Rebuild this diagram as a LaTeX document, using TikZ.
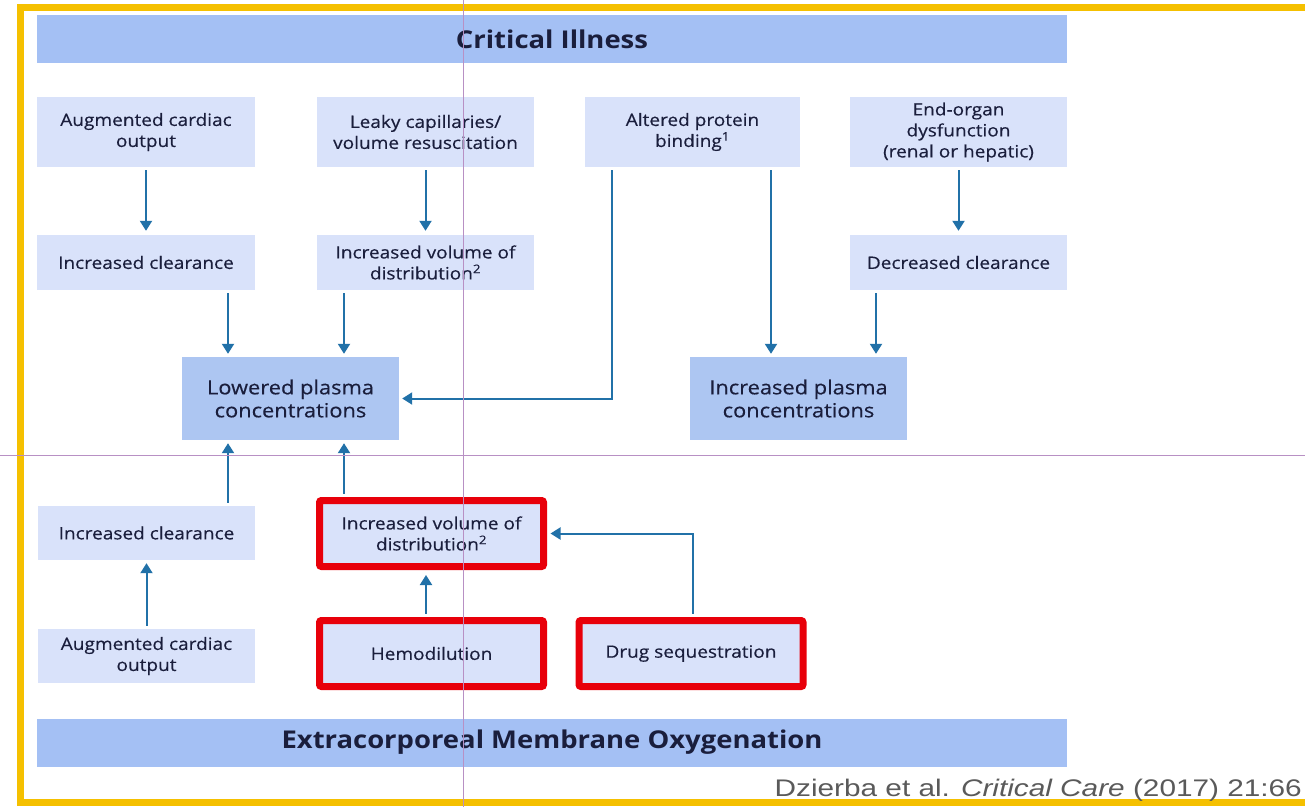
\documentclass[tikz,border=0pt]{standalone}
\usepackage{fontspec}
\setmainfont{Open Sans}[FakeStretch=1.12, FakeBold=0.4]
\newfontfamily\hdrfont{Open Sans}[FakeStretch=1.12]
\newfontfamily\citefont{Liberation Sans}[FakeStretch=1.24]
\usetikzlibrary{arrows.meta,calc}
\definecolor{yellowB}{HTML}{F5C000}
\definecolor{hdrblue}{HTML}{A4C0F4}
\definecolor{lightbox}{HTML}{D9E2FA}
\definecolor{midblue}{HTML}{ADC6F2}
\definecolor{arrowc}{HTML}{2171A8}
\definecolor{textc}{HTML}{1A1E3C}
\definecolor{redc}{HTML}{E8000A}
\definecolor{guide}{HTML}{B890C4}
\definecolor{citec}{HTML}{5A5A5A}
\tikzset{
  band/.style={fill=hdrblue, minimum width=1030pt, minimum height=48pt, inner sep=0pt,
    text=textc, font=\hdrfont\bfseries\fontsize{24.5}{28}\selectfont},
  sbox/.style={fill=lightbox, inner sep=0pt, text=textc, align=center,
    font=\fontsize{17}{21}\selectfont},
  pbox/.style={fill=midblue, minimum width=217pt, minimum height=83pt, inner sep=0pt,
    text=textc, align=center, font=\fontsize{19.5}{23}\selectfont},
  rbox/.style={sbox, draw=redc, line width=7pt, rounded corners=2pt,
    minimum width=224pt, minimum height=66pt},
  arr/.style={draw=arrowc, line width=2pt, -{Triangle[width=12pt,length=10pt]}},
}
\begin{document}
\begin{tikzpicture}[x=1pt,y=-1pt]
\useasboundingbox (0,0) rectangle (1305,807);
\fill[white] (0,0) rectangle (1305,807);
% yellow frame
\draw[yellowB, line width=7pt] (1315,7) -- (20,7) -- (20,802) -- (1315,802);

% bands
\node[band] (ci) at (552,39) {Critical Illness};
\node[band] (ecmo) at (552,742.5) {Extracorporeal Membrane Oxygenation};

% row 1
\node[sbox, minimum width=218pt, minimum height=70pt] (a1) at (146,132) {Augmented cardiac\\output};
\node[sbox, minimum width=217pt, minimum height=70pt] (a2) at (425.5,132) {Leaky capillaries/\\volume resuscitation};
\node[sbox, minimum width=215pt, minimum height=70pt] (a3) at (692.5,132) {Altered protein\\binding\textsuperscript{1}};
\node[sbox, minimum width=217pt, minimum height=70pt] (a4) at (958.5,132) {End-organ\\dysfunction\\(renal or hepatic)};

% row 2
\node[sbox, minimum width=218pt, minimum height=55pt] (b1) at (146,262.5) {Increased clearance};
\node[sbox, minimum width=217pt, minimum height=55pt] (b2) at (425.5,262.5) {Increased volume of\\distribution\textsuperscript{2}};
\node[sbox, minimum width=217pt, minimum height=55pt] (b4) at (958.5,262.5) {Decreased clearance};

% plasma
\node[pbox] (low) at (290.5,398.5) {Lowered plasma\\concentrations};
\node[pbox] (inc) at (798.5,398.5) {Increased plasma\\concentrations};

% ECMO part
\node[sbox, minimum width=217pt, minimum height=54pt] (c1) at (146.5,533) {Increased clearance};
\node[rbox] (c2) at (431.5,533.5) {Increased volume of\\distribution\textsuperscript{2}};
\node[sbox, minimum width=217pt, minimum height=54pt] (d1) at (146.5,656) {Augmented cardiac\\output};
\node[rbox] (d2) at (431.5,653.5) {Hemodilution};
\node[rbox] (d3) at (691,653.5) {Drug sequestration};

% arrows top part
\draw[arr, shorten <=3pt, shorten >=4pt] (a1.south) -- (b1.north);
\draw[arr, shorten <=3pt, shorten >=4pt] (a2.south) -- (b2.north);
\draw[arr, shorten <=3pt, shorten >=4pt] (a4.south) -- (b4.north);
\draw[arr, shorten <=3pt, shorten >=3pt] ([xshift=82pt]b1.south) -- ([xshift=82pt]b1.south |- low.north);
\draw[arr, shorten <=3pt, shorten >=3pt] ([xshift=-81.5pt]b2.south) -- ([xshift=-81.5pt]b2.south |- low.north);
\draw[arr, shorten <=3pt, shorten >=3pt] ([xshift=-80.5pt]a3.south) |- (low.east);
\draw[arr, shorten <=3pt, shorten >=3pt] ([xshift=78.5pt]a3.south) -- ([xshift=78.5pt]a3.south |- inc.north);
\draw[arr, shorten <=3pt, shorten >=3pt] ([xshift=-82.5pt]b4.south) -- ([xshift=-82.5pt]b4.south |- inc.north);

% arrows bottom part
\draw[arr, shorten <=3pt, shorten >=3pt] ([xshift=81.5pt]c1.north) -- ([xshift=81.5pt]c1.north |- low.south);
\draw[arr, shorten <=3.5pt, shorten >=3pt] ([xshift=-87.5pt]c2.north) -- ([xshift=-87.5pt]c2.north |- low.south);
\draw[arr, shorten <=3pt, shorten >=3pt] (d1.north) -- (c1.south);
\draw[arr, shorten <=3.5pt, shorten >=5pt] ([xshift=-5.5pt]d2.north) -- ([xshift=-5.5pt]d2.north |- c2.south);
\draw[arr, shorten <=3.5pt, shorten >=3.5pt] ([xshift=2pt]d3.north) |- (c2.east);

% citation
\node[anchor=base east, inner sep=0pt, text=citec, font=\citefont\fontsize{24}{28}\selectfont] (cite) at (1302,796)
  {Dzierba et al. \textit{Critical Care} (2017) 21:66};

% guide lines
\draw[guide, line width=0.8pt] (463,0) -- (463,807);
\draw[guide, line width=0.8pt] (0,455) -- (1305,455);
\end{tikzpicture}
\end{document}
